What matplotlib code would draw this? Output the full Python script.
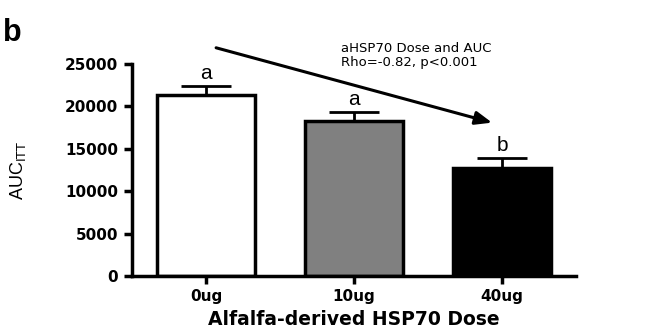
import matplotlib
matplotlib.use("Agg")
import matplotlib.pyplot as plt

categories = ["0ug", "10ug", "40ug"]
means = [21300, 18300, 12700]
errors = [1100, 1050, 1200]
colors = ["white", "#808080", "black"]
letters = ["a", "a", "b"]
yticks = [0, 5000, 10000, 15000, 20000, 25000]

plt.rcParams['font.family'] = ['Liberation Sans', 'DejaVu Sans']

fig = plt.figure(figsize=(6.6, 3.3), dpi=100)
ax = fig.add_axes([0.2, 0.1636, 0.673, 0.6424])

x = list(range(len(categories)))
ax.bar(x, means, width=0.66, color=colors, edgecolor="black", linewidth=2.5, zorder=2)
for xi, m, e in zip(x, means, errors):
    ax.errorbar([xi], [m], yerr=[[0], [e]], fmt="none", ecolor="black",
                elinewidth=2, capsize=18, capthick=2, zorder=3)
for xi, m, e, l in zip(x, means, errors, letters):
    ax.text(xi, m + e + 400, l, ha="center", va="bottom", fontsize=15)

ax.set_xlim(-0.5, 2.5)
ax.set_ylim(0, 25000)
ax.set_yticks(yticks)
ax.set_yticklabels([str(t) for t in yticks], fontweight="bold", fontsize=11,
                   family="DejaVu Sans")
ax.set_xticks(x)
ax.set_xticklabels(categories, fontweight="bold", fontsize=11, family="DejaVu Sans")
for s in ["top", "right"]:
    ax.spines[s].set_visible(False)
for s in ["left", "bottom"]:
    ax.spines[s].set_linewidth(2.5)
ax.tick_params(axis="both", width=2.5, length=6, direction="out")
ax.tick_params(axis="y", pad=4)
ax.tick_params(axis="x", pad=3)
ax.set_xlabel("Alfalfa-derived HSP70 Dose", fontweight="bold", fontsize=13.5,
              family="DejaVu Sans", labelpad=5)
ax.set_ylabel(r"AUC$_{\mathrm{ITT}}$", fontsize=13)
ax.yaxis.set_label_coords(-0.235, 0.5)

ax.annotate("", xy=(1.95, 18000), xytext=(0.05, 27000),
            arrowprops=dict(arrowstyle="-|>,head_length=1.0,head_width=0.4",
                            color="black", lw=2.2),
            annotation_clip=False)
ax.text(0.91, 26050, "aHSP70 Dose and AUC\nRho=-0.82, p<0.001", fontsize=9.5,
        family="DejaVu Sans", fontweight="medium", ha="left", va="center",
        linespacing=1.1)

fig.text(0.005, 0.9, "b", fontsize=22, fontweight="bold", ha="left", va="center")

fig.savefig("out.png", dpi=100)
